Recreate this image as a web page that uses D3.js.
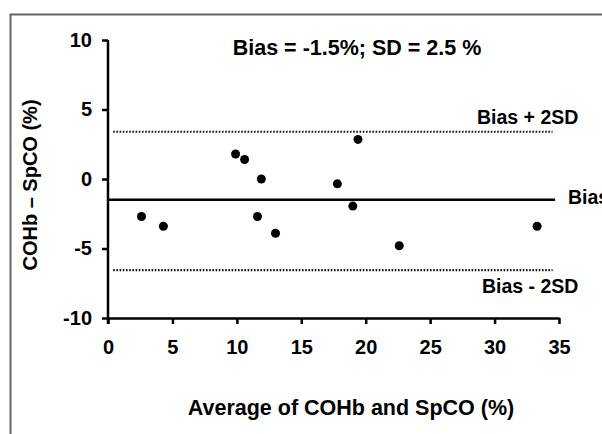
<!DOCTYPE html>
<html>
<head>
<meta charset="utf-8">
<script src="https://cdn.jsdelivr.net/npm/d3@7"></script>
<style>
  body { margin: 0; background: #fff; }
  svg { display: block; }
  text { font-family: "Liberation Sans", Arial, sans-serif; font-weight: bold; fill: #000; }
</style>
</head>
<body>
<div id="chart"></div>
<script>
// average of COHb and SpCO (%)
const avgValues = [2.6, 4.3, 9.9, 10.6, 11.9, 11.6, 13.0, 17.8, 19.0, 19.4, 22.6, 33.3]
// COHb - SpCO (%)
const diffValues = [-2.7, -3.4, 1.8, 1.4, 0.0, -2.7, -3.9, -0.35, -1.95, 2.85, -4.8, -3.4]
const bias = -1.5
const sd = 2.5
// limits of agreement as drawn
const upperLimit = 3.4
const lowerLimit = -6.55
const xTicks = [0, 5, 10, 15, 20, 25, 30, 35]
const yTicks = [-10, -5, 0, 5, 10]

const W = 602, H = 434
const margin = {left: 108, right: 43, top: 40, bottom: 116}

let svg = d3.select("#chart").append("svg")
    .attr("width", W)
    .attr("height", H)

// outer frame (runs off the right and bottom edges)
svg.append("rect")
    .attr("x", 10.5)
    .attr("y", 14.5)
    .attr("width", 620)
    .attr("height", 440)
    .attr("fill", "none")
    .attr("stroke", "#666")
    .attr("stroke-width", 2)

let x = d3.scaleLinear().domain([0, 35]).range([margin.left, W - margin.right])
let y = d3.scaleLinear().domain([-10, 10]).range([H - margin.bottom, margin.top])

let xAxis = d3.axisBottom(x).tickValues(xTicks).tickFormat(d => String(d))
    .tickSize(6).tickPadding(16).tickSizeOuter(0)
let yAxis = d3.axisLeft(y).tickValues(yTicks).tickFormat(d => String(d))
    .tickSize(6).tickPadding(10).tickSizeOuter(0)

let gx = svg.append("g")
    .attr("class", "x axis")
    .attr("transform", "translate(0," + y(-10) + ")")
    .call(xAxis)
let gy = svg.append("g")
    .attr("class", "y axis")
    .attr("transform", "translate(" + x(0) + ",0)")
    .call(yAxis)

svg.selectAll(".axis path, .axis line")
    .attr("stroke", "#000")
    .attr("stroke-width", 2.5)
svg.selectAll(".axis text")
    .attr("font-size", 20)
    .attr("font-family", "Liberation Sans, Arial, sans-serif")
    .attr("font-weight", "bold")
    .attr("fill", "#000")
gy.select("path.domain").attr("d", "M0," + (y(-10) + 6) + "V" + y(10))

// bias and limits of agreement
svg.append("line")
    .attr("x1", x(0)).attr("x2", x(34.7))
    .attr("y1", y(bias)).attr("y2", y(bias))
    .attr("stroke", "#000")
    .attr("stroke-width", 2.5)

let limits = [upperLimit, lowerLimit]
svg.selectAll("line.limit")
    .data(limits)
    .enter().append("line")
    .attr("class", "limit")
    .attr("x1", x(0.4)).attr("x2", x(34.5))
    .attr("y1", d => y(d)).attr("y2", d => y(d))
    .attr("stroke", "#111")
    .attr("stroke-width", 2.2)
    .attr("stroke-dasharray", "1.6,1.6")

svg.append("text")
    .attr("x", x(35.7))
    .attr("y", y(bias) + 4)
    .attr("font-size", 19.5)
    .text("Bias")
svg.append("text")
    .attr("x", x(36.5))
    .attr("y", y(upperLimit) - 8)
    .attr("text-anchor", "end")
    .attr("font-size", 19.5)
    .text("Bias + 2SD")
svg.append("text")
    .attr("x", x(36.5))
    .attr("y", y(lowerLimit) + 23)
    .attr("text-anchor", "end")
    .attr("font-size", 19.5)
    .text("Bias - 2SD")

// points
svg.selectAll("circle.pt")
    .data(avgValues)
    .enter().append("circle")
    .attr("class", "pt")
    .attr("cx", d => x(d))
    .attr("cy", (d, i) => y(diffValues[i]))
    .attr("r", 4.5)
    .attr("fill", "#000")

// titles
svg.append("text")
    .attr("x", 357)
    .attr("y", 55)
    .attr("text-anchor", "middle")
    .attr("font-size", 21.5)
    .text("Bias = " + bias + "%; SD = " + sd + " %")

svg.append("text")
    .attr("x", 351)
    .attr("y", 415)
    .attr("text-anchor", "middle")
    .attr("font-size", 21.5)
    .text("Average of COHb and SpCO (%)")

svg.append("text")
    .attr("transform", "translate(37,185) rotate(-90)")
    .attr("text-anchor", "middle")
    .attr("font-size", 20)
    .text("COHb \u2013 SpCO (%)")
</script>
</body>
</html>
